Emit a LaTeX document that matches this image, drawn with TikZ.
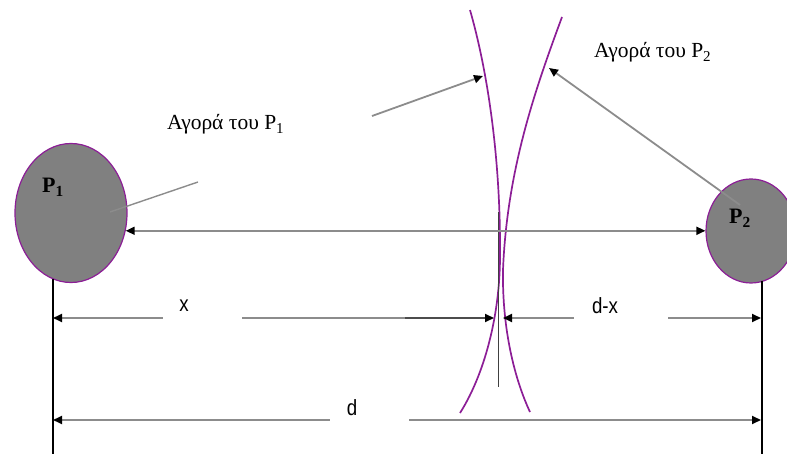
\documentclass[tikz,border=0pt]{standalone}
\usepackage{fontspec}
\setmainfont{Liberation Serif}
\newfontfamily\labelsans{Liberation Sans}
\usetikzlibrary{shapes.geometric,arrows.meta}
\definecolor{regpurple}{RGB}{140,30,150}
\definecolor{blobgray}{RGB}{128,128,128}
\definecolor{linegray}{RGB}{140,140,140}
\tikzset{
  blob/.style={ellipse, draw=regpurple, line width=1.2pt, fill=blobgray, inner sep=0pt},
  border/.style={draw=regpurple, line width=1.7pt},
  conn/.style={draw=linegray, line width=1.8pt},
  ah/.tip={Triangle[length=9pt,width=8pt,color=black]},
  tip/.style={-ah},
  tipstart/.style={ah-},
  tipboth/.style={ah-ah},
  rail/.style={draw=black, line width=1.3pt},
  greek/.style={font=\fontsize{21.5}{25}\selectfont, inner sep=0pt, anchor=base west},
  plabel/.style={font=\fontsize{22}{25}\selectfont\bfseries, inner sep=0pt, anchor=base west},
  dimlabel/.style={font=\labelsans\fontsize{22}{26}\selectfont, inner sep=0pt, anchor=base}
}
\begin{document}
\begin{tikzpicture}[x=1pt,y=-1pt]
\useasboundingbox (0,0) rectangle (787,454);
\clip (0,0) rectangle (787,454);
% market regions
\node[blob, minimum width=112pt, minimum height=139pt] (e1) at (71,213) {};
\node[blob, minimum width=90pt, minimum height=104pt] (e2) at (751,231) {};
\node[plabel] (p1) at (42,193) {P\textsubscript{1}};
\node[plabel] (p2) at (729,224) {P\textsubscript{2}};
% boundary curves
\draw[border] (470,10) .. controls (490,80) and (501,170) .. (500,260)
              .. controls (499,325) and (481,380) .. (460,413);
\draw[border] (562,17) .. controls (535,90) and (507,170) .. (503,270)
              .. controls (502,330) and (515,380) .. (530,412);
\coordinate (vt) at (498,212);
\coordinate (vb) at (498,387);
\draw[draw=black!75, line width=1pt] (vt) -- (vb);
% distance arrow between markets
\draw[conn, tipboth] (e1.-18) -- (e1.-18 -| e2.west);
% labels of markets
\node[greek] (t1) at (167,130) {Αγορά του P\textsubscript{1}};
\node[greek] (t2) at (594,58) {Αγορά του P\textsubscript{2}};
\coordinate (l1a) at (110,212);
\coordinate (l1b) at (198,182);
\draw[conn, line width=1.4pt] (l1a) -- (l1b);
\coordinate (a1s) at (372,116);
\coordinate (a1e) at (483,76);
\draw[conn, tip] (a1s) -- (a1e);
\coordinate (a2s) at (740,205);
\coordinate (a2e) at (549,68);
\draw[conn, tip] (a2s) -- (a2e);
% vertical rails
\coordinate (r1t) at (53,279);
\coordinate (r1b) at (53,454);
\coordinate (r2t) at (762,281);
\coordinate (r2b) at (762,454);
\draw[rail] (r1t) -- (r1b);
\draw[rail] (r2t) -- (r2b);
% x and d-x dimension
\coordinate (x1) at (53,318);
\coordinate (x2) at (163,318);
\coordinate (x3) at (242,318);
\coordinate (x4) at (494,318);
\coordinate (x5) at (503,318);
\coordinate (x6) at (574,318);
\coordinate (x7) at (668,318);
\coordinate (x8) at (761,318);
\coordinate (xd) at (405,318);
\draw[conn, tipstart] (x1) -- (x2);
\draw[conn] (x3) -- (xd);
\draw[draw=black!70, line width=1.8pt, tip] (xd) -- (x4);
\draw[conn, tipstart] (x5) -- (x6);
\draw[conn, tip] (x7) -- (x8);
\node[dimlabel] (lx) at (184,312) {\scalebox{0.85}[1]{x}};
\node[dimlabel] (ldx) at (605,313) {\scalebox{0.85}[1]{d-x}};
% d dimension
\coordinate (d1) at (53,420);
\coordinate (d2) at (330,420);
\coordinate (d3) at (409,420);
\coordinate (d4) at (761,420);
\draw[conn, tipstart] (d1) -- (d2);
\draw[conn, tip] (d3) -- (d4);
\node[dimlabel] (ld) at (352,415) {\scalebox{0.85}[1]{d}};
\end{tikzpicture}
\end{document}
